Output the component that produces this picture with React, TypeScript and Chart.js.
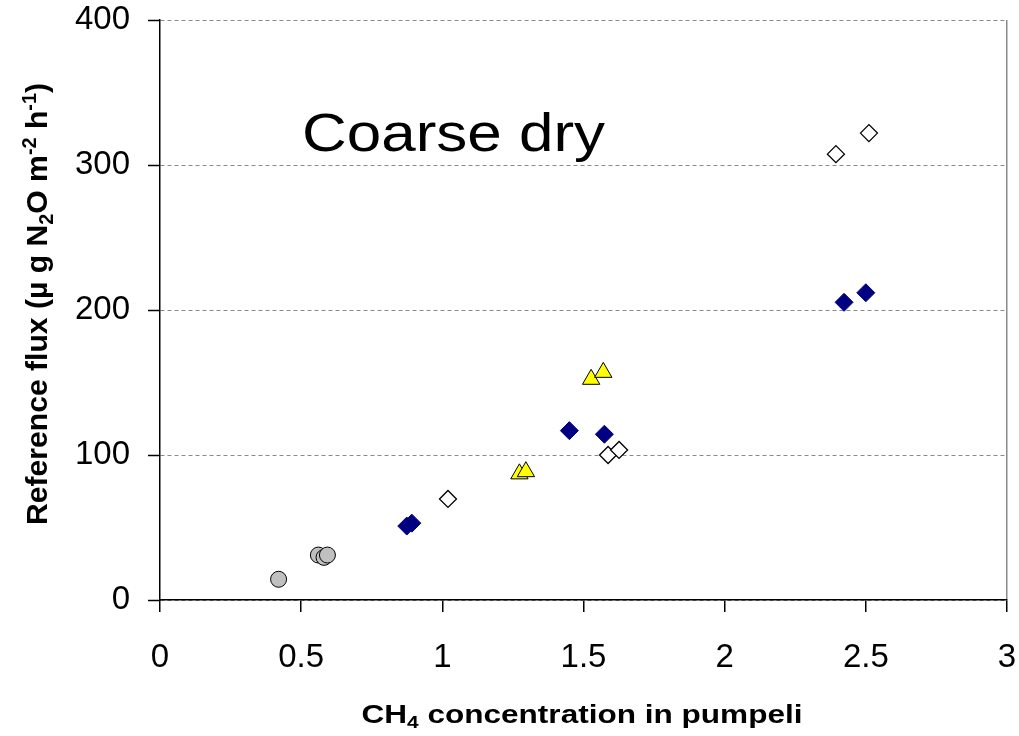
import React, { useEffect, useRef } from "react";
import { Chart, registerables } from "chart.js";

Chart.register(...registerables);

// Data
const circleX = [0.42, 0.561, 0.581, 0.593];
const circleY = [14.3, 31, 29.4, 31];
const blueDiamondX = [0.874, 0.892, 1.45, 1.574, 2.423, 2.5];
const blueDiamondY = [51, 53, 116.8, 114.3, 205.3, 211.9];
const whiteDiamondX = [1.02, 1.587, 1.626, 2.394, 2.511];
const whiteDiamondY = [69.7, 100, 103.5, 307.5, 322];
const triangleX = [1.273, 1.296, 1.527, 1.57];
const triangleY = [87, 88.5, 152.2, 157];

const xTicks = [0, 0.5, 1, 1.5, 2, 2.5, 3];
const yTicks = [0, 100, 200, 300, 400];

const panelLabel = "Coarse dry";
const xTitleSegs = [
  { t: "CH" },
  { t: "4", sub: true },
  { t: " concentration in pumpeli" },
];
const yTitleSegs = [
  { t: "Reference flux (\u00b5 g N" },
  { t: "2", sub: true },
  { t: "O m" },
  { t: "-2", sup: true },
  { t: " h" },
  { t: "-1", sup: true },
  { t: ")" },
];

const FAMILY = '"Liberation Sans", Arial, sans-serif';

type Seg = { t: string; sub?: boolean; sup?: boolean };

function segFont(seg: Seg, size: number, bold: boolean) {
  const s = seg.sub || seg.sup ? size * 0.66 : size;
  return `${bold ? "bold " : ""}${s}px ${FAMILY}`;
}

function measureSegs(ctx: CanvasRenderingContext2D, segs: Seg[], size: number, bold: boolean) {
  let w = 0;
  for (const s of segs) {
    ctx.font = segFont(s, size, bold);
    w += ctx.measureText(s.t).width;
  }
  return w;
}

function drawSegs(ctx: CanvasRenderingContext2D, segs: Seg[], size: number, bold: boolean) {
  let x = 0;
  for (const s of segs) {
    ctx.font = segFont(s, size, bold);
    const dy = s.sub ? size * 0.2 : s.sup ? -size * 0.38 : 0;
    ctx.fillText(s.t, x, dy);
    x += ctx.measureText(s.t).width;
  }
}

const textPlugin = {
  id: "customText",
  afterDraw(chart: any) {
    const ctx: CanvasRenderingContext2D = chart.ctx;
    ctx.save();
    ctx.fillStyle = "#000";
    ctx.textBaseline = "alphabetic";
    ctx.textAlign = "left";

    {
      const size = 54;
      const segs = [{ t: panelLabel }];
      const w = measureSegs(ctx, segs, size, false);
      const target = 303;
      ctx.save();
      ctx.translate(302, 151);
      ctx.scale(target / w, 1);
      drawSegs(ctx, segs, size, false);
      ctx.restore();
    }

    {
      const size = 25;
      const w = measureSegs(ctx, xTitleSegs, size, true);
      const target = 441;
      ctx.save();
      ctx.translate(582 - target / 2, 723);
      ctx.scale(target / w, 1);
      drawSegs(ctx, xTitleSegs, size, true);
      ctx.restore();
    }

    {
      const size = 30;
      const w = measureSegs(ctx, yTitleSegs, size, true);
      const target = 442;
      ctx.save();
      ctx.translate(47, 304);
      ctx.rotate(-Math.PI / 2);
      ctx.translate(-target / 2, 0);
      ctx.scale(target / w, 1);
      drawSegs(ctx, yTitleSegs, size, true);
      ctx.restore();
    }
    ctx.restore();
  },
};

export default function App() {
  const ref = useRef<HTMLCanvasElement>(null);

  useEffect(() => {
    document.body.style.margin = "0";
    const canvas = ref.current!;
    const toPts = (xs: number[], ys: number[]) => xs.map((x, i) => ({ x, y: ys[i] }));

    const chart = new Chart(canvas, {
      type: "scatter",
      data: {
        datasets: [
          {
            label: "circles",
            data: toPts(circleX, circleY),
            pointStyle: "circle",
            pointRadius: 8,
            backgroundColor: "#c0c0c0",
            borderColor: "#000",
            borderWidth: 1,
          },
          {
            label: "open diamonds",
            data: toPts(whiteDiamondX, whiteDiamondY),
            pointStyle: "rectRot",
            pointRadius: 8.5,
            backgroundColor: "#ffffff",
            borderColor: "#000",
            borderWidth: 1.3,
          },
          {
            label: "triangles",
            data: toPts(triangleX, triangleY),
            pointStyle: "triangle",
            pointRadius: 10,
            backgroundColor: "#ffff00",
            borderColor: "#000",
            borderWidth: 1,
          },
          {
            label: "filled diamonds",
            data: toPts(blueDiamondX, blueDiamondY),
            pointStyle: "rectRot",
            pointRadius: 9,
            backgroundColor: "#000080",
            borderColor: "#000080",
            borderWidth: 1,
          },
        ],
      },
      options: {
        animation: false,
        responsive: false,
        devicePixelRatio: 1,
        layout: { padding: { left: 0, right: 12, top: 20, bottom: 0 } },
        plugins: {
          legend: { display: false },
          tooltip: { enabled: false },
        },
        scales: {
          x: {
            type: "linear",
            min: 0,
            max: 3,
            afterBuildTicks: (scale: any) => {
              scale.ticks = xTicks.map((v) => ({ value: v }));
            },
            afterFit: (scale: any) => {
              scale.height = 136;
              scale.paddingLeft = 0;
              scale.paddingRight = 0;
            },
            ticks: {
              font: { family: FAMILY, size: 33 },
              color: "#000",
              padding: 26,
              maxRotation: 0,
              autoSkip: false,
              callback: (v: any) => String(v),
            },
            grid: {
              drawOnChartArea: true,
              color: (c: any) => (c.tick && c.tick.value === 3 ? "#8a8a8a" : "rgba(0,0,0,0)"),
              lineWidth: 1.5,
              tickColor: "#000",
              tickLength: 12,
              tickWidth: 1.5,
            },
            border: { display: true, color: "#000", width: 1.5 },
          },
          y: {
            type: "linear",
            min: 0,
            max: 400,
            afterBuildTicks: (scale: any) => {
              scale.ticks = yTicks.map((v) => ({ value: v }));
            },
            afterFit: (scale: any) => {
              scale.width = 160;
              scale.paddingTop = 0;
              scale.paddingBottom = 0;
            },
            ticks: {
              font: { family: FAMILY, size: 33 },
              color: "#000",
              padding: 18,
              autoSkip: false,
              callback: (v: any) => String(v),
            },
            grid: {
              color: "#8a8a8a",
              lineWidth: 1,
              tickColor: "#000",
              tickLength: 12,
              tickWidth: 1.5,
              tickBorderDash: [],
            },
            border: { display: true, color: "#000", width: 1.5, dash: [4, 3] },
          },
        },
      },
      plugins: [textPlugin],
    } as any);

    return () => chart.destroy();
  }, []);

  return (
    <div style={{ position: "absolute", left: 0, top: 0, width: 1019, height: 736, background: "#fff" }}>
      <canvas ref={ref} width={1019} height={736} style={{ display: "block" }} />
    </div>
  );
}
